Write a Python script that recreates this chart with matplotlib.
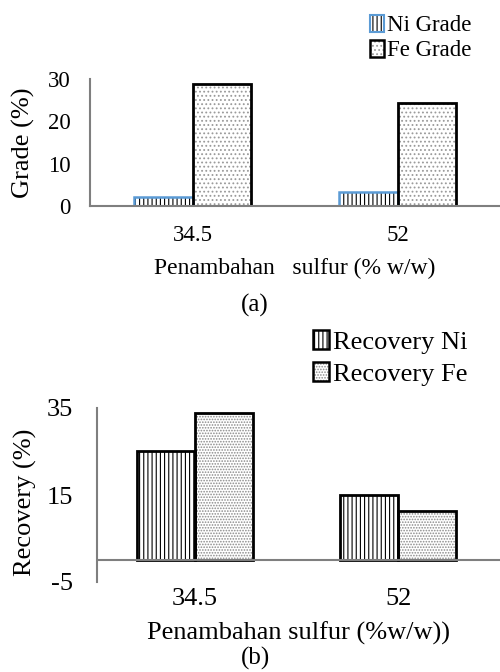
import numpy as np
import matplotlib.pyplot as plt
from matplotlib.patches import Patch

plt.rcParams['font.family'] = ['Liberation Serif', 'DejaVu Serif']
plt.rcParams['hatch.linewidth'] = 0.8
plt.rcParams['axes.unicode_minus'] = False

cats = ['34.5', '52']
ni_grade = [2.2, 3.4]
fe_grade = [28.8, 24.3]
ni_rec = [25.1, 15.1]
fe_rec = [33.8, 11.4]

W, H = 500, 672
fig = plt.figure(figsize=(W / 100, H / 100), dpi=100)

def px_axes(x0, y0, x1, y1):
    # pixel box (left, top, right, bottom) -> figure fraction
    return fig.add_axes([x0 / W, 1 - y1 / H, (x1 - x0) / W, (y1 - y0) / H])

axis_gray = '#7f7f7f'
x = np.arange(len(cats))
bw = 0.285

# ---------- (a) grade ----------
ax1 = px_axes(90, 79, 500, 206)
# hatch layers
ax1.bar(x - bw / 2, ni_grade, bw, color='white', edgecolor='black', hatch='||||', lw=0)
ax1.bar(x + bw / 2, fe_grade, bw, color='white', edgecolor='#9a9a9a', hatch='....', lw=0)
# outlines
ax1.bar(x - bw / 2, ni_grade, bw, fill=False, edgecolor='#5b9bd5', lw=1.8)
ax1.bar(x + bw / 2, fe_grade, bw, fill=False, edgecolor='black', lw=2.0)
ax1.set_xlim(-0.5, 1.5)
ax1.set_ylim(0, 30)
ax1.set_yticks([0, 10, 20, 30])
ax1.set_xticks(x)
ax1.set_xticklabels(cats)
ax1.tick_params(axis='both', length=0, labelsize=16.5)
ax1.tick_params(axis='y', pad=14)
ax1.tick_params(axis='x', pad=14)
for s in ['top', 'right']:
    ax1.spines[s].set_visible(False)
for s in ['left', 'bottom']:
    ax1.spines[s].set_color(axis_gray)
    ax1.spines[s].set_linewidth(1.5)
ax1.set_xlabel('Penambahan   sulfur (% w/w)', fontsize=17)
ax1.xaxis.set_label_coords(0.5, -0.41)
ax1.set_ylabel('Grade (%)', fontsize=19)
ax1.yaxis.set_label_coords(-0.134, 0.5)

h1 = [(Patch(facecolor='white', edgecolor='black', hatch='||||', lw=0),
       Patch(fill=False, edgecolor='#5b9bd5', lw=1.5)),
      (Patch(facecolor='white', edgecolor='#9a9a9a', hatch='....', lw=0),
       Patch(fill=False, edgecolor='black', lw=1.8))]
fig.legend(h1, ['Ni Grade', 'Fe Grade'], loc='upper left',
           bbox_to_anchor=(370 / W, 1 - 15 / H), frameon=False, fontsize=16.5,
           handlelength=0.6, handleheight=0.75, handletextpad=0.15,
           labelspacing=0.15, borderpad=0, borderaxespad=0)

fig.text(255 / W, 1 - 305 / H, '(a)', ha='center', va='center', fontsize=18)

# ---------- (b) recovery ----------
ax2 = px_axes(97, 408, 500, 582)
ax2.bar(x - bw / 2, ni_rec, bw, color='white', edgecolor='black', hatch='||||', lw=0)
ax2.bar(x + bw / 2, fe_rec, bw, color='white', edgecolor='#8a8a8a', hatch='......', lw=0)
ax2.bar(x - bw / 2, ni_rec, bw, fill=False, edgecolor='black', lw=2.0)
ax2.bar(x + bw / 2, fe_rec, bw, fill=False, edgecolor='black', lw=2.0)
ax2.axhline(0, color=axis_gray, lw=1.5)
ax2.set_xlim(-0.48, 1.5)
ax2.set_ylim(-5, 35)
ax2.set_yticks([-5, 15, 35])
ax2.set_xticks(x)
ax2.set_xticklabels(cats)
ax2.tick_params(axis='both', length=0, labelsize=19)
ax2.tick_params(axis='y', pad=17)
ax2.tick_params(axis='x', pad=4)
for s in ['top', 'right', 'bottom']:
    ax2.spines[s].set_visible(False)
ax2.spines['left'].set_color(axis_gray)
ax2.spines['left'].set_linewidth(1.5)
ax2.set_xlabel('Penambahan sulfur (%w/w))', fontsize=19)
ax2.xaxis.set_label_coords(0.5, -0.23)
ax2.set_ylabel('Recovery (%)', fontsize=19)
ax2.yaxis.set_label_coords(-0.149, 0.46)

h2 = [(Patch(facecolor='white', edgecolor='black', hatch='||||', lw=0),
       Patch(fill=False, edgecolor='black', lw=1.8)),
      (Patch(facecolor='white', edgecolor='#8a8a8a', hatch='......', lw=0),
       Patch(fill=False, edgecolor='black', lw=1.8))]
fig.legend(h2, ['Recovery Ni', 'Recovery Fe'], loc='upper left',
           bbox_to_anchor=(313 / W, 1 - 330 / H), frameon=False, fontsize=19,
           handlelength=0.6, handleheight=0.75, handletextpad=0.15,
           labelspacing=0.3, borderpad=0, borderaxespad=0)

fig.text(255 / W, 2 / H, '(b)', ha='center', va='bottom', fontsize=18)

fig.savefig('out.png', dpi=100, facecolor='white')
